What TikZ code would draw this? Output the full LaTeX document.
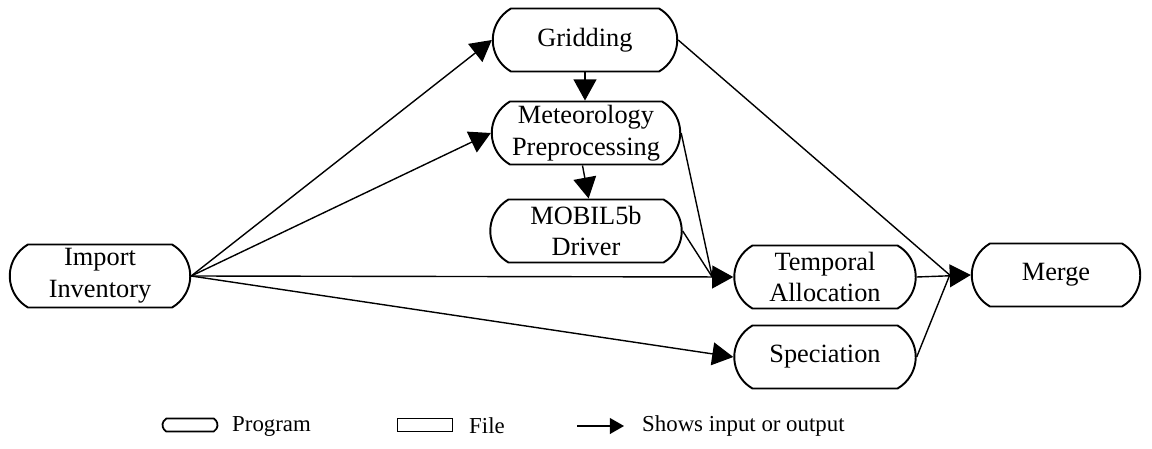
\documentclass[tikz,border=0pt]{standalone}
\usepackage{fontspec}
\setmainfont{Liberation Serif}
\usetikzlibrary{shapes.misc,arrows.meta}
\begin{document}
\begin{tikzpicture}[x=0.02cm,y=-0.02cm,
 prog/.style={rounded rectangle, rounded rectangle arc length=120, draw, line width=1.1pt,
   minimum width=3.76cm, minimum height=1.26cm, inner sep=1pt, align=center,
   font=\fontsize{15}{18}\selectfont},
 conn/.style={line width=0.8pt},
 arr/.style={conn, -{Triangle[length=12pt,width=13pt]}},
 smallarr/.style={line width=0.7pt, -{Triangle[length=8pt,width=9pt]}},
 legend/.style={font=\fontsize{13}{15}\selectfont, anchor=west}]
\useasboundingbox (0,0) rectangle (1152,449);
\node[prog, minimum width=3.68cm] (imp) at (100,276) {Import\\Inventory};
\node[prog] (grid) at (585,40) {Gridding};
\node[prog, minimum width=3.84cm] (met) at (586,133) {Meteorology\\Preprocessing};
\node[prog, minimum width=3.9cm] (mob) at (586,231) {MOBIL5b\\Driver};
\node[prog, minimum width=3.7cm] (temp) at (825,277) {Temporal\\Allocation};
\node[prog, minimum width=3.7cm] (spec) at (825,357) {Speciation};
\node[prog, minimum width=3.44cm] (merge) at (1056,275) {Merge};
\coordinate (tin) at ([xshift=-12pt]temp.west);
\coordinate (min) at ([xshift=-12pt]merge.west);
\draw[arr] (imp.east) -- (grid.west);
\draw[arr] (imp.east) -- (met.west);
\draw[arr] (imp.east) -- (temp.west);
\draw[arr] (imp.east) -- (spec.west);
\draw[arr] (grid.south) -- (grid.south |- met.north);
\draw[arr] ([xshift=-2pt]met.south) -- ([xshift=1.5pt]mob.north);
\draw[conn] (met.east) -- (tin);
\draw[conn] (mob.east) -- (tin);
\draw[conn] (grid.east) -- (min);
\draw[conn] (spec.east) -- (min);
\draw[arr] (temp.east) -- (merge.west);
% legend
\node[rounded rectangle, rounded rectangle arc length=120, draw, line width=1pt,
  minimum width=1.1cm, minimum height=0.26cm, inner sep=0pt] (lp) at (190,425) {};
\node[legend] (lpt) at (226,426) {Program};
\node[draw, line width=1pt, minimum width=1.1cm, minimum height=0.26cm, inner sep=0pt] (lf) at (425,425) {};
\node[legend] (lft) at (463,426) {File};
\coordinate (la) at (577,426);
\coordinate (la2) at (624,426);
\draw[smallarr] (la) -- (la2);
\node[legend] (lat) at (636,426) {Shows input or output};
\end{tikzpicture}
\end{document}
